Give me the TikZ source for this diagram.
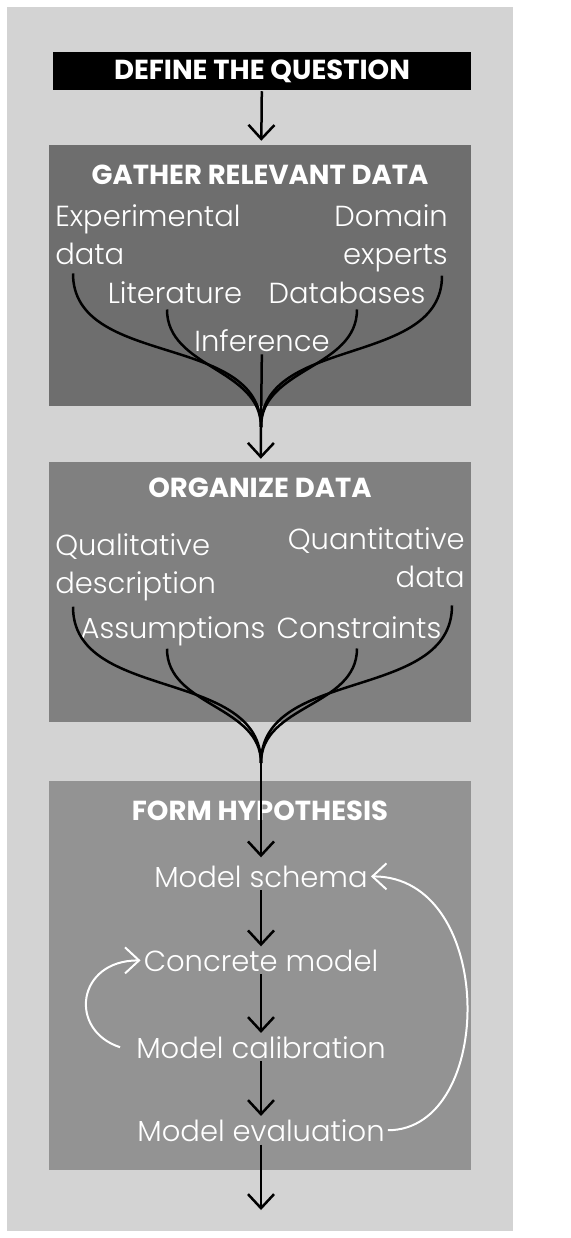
\documentclass[tikz,border=0pt]{standalone}
\usepackage{fontspec}
\setmainfont{Poppins}[UprightFont=* Light,BoldFont=* Bold]
\usepackage{tikz}
\usetikzlibrary{%
  arrows.meta,% Straight Barb
  positioning,% wg. " of "
  calc%
}
\definecolor{outergray}{HTML}{D3D3D3}
\definecolor{gathergray}{HTML}{6E6E6E}
\definecolor{organizegray}{HTML}{808080}
\definecolor{hypogray}{HTML}{939393}

\begin{document}
\begin{tikzpicture}[x=1pt,y=-1pt,line width=2.5pt,>={Straight Barb[length=14pt,width=26pt]},
    stagebox/.style={minimum width=422pt, inner sep=0pt},
    head/.style={text=white, font=\fontsize{27.5}{30}\selectfont\bfseries, inner sep=2pt},
    item/.style={text=white, font=\fontsize{29}{38}\selectfont, inner sep=2pt},
    whiteloop/.style={draw=white, line width=2pt}]
    \useasboundingbox (0,0) rectangle (570,1238);
    \fill[white] (0,0) rectangle (570,1238);
    \fill[outergray] (7,7) rectangle (513,1231);

    %question
    \node[head, fill=black, minimum width=418pt, minimum height=38pt] (define) at (262,71) {DEFINE THE QUESTION};

    %gather
    \node[stagebox, fill=gathergray, minimum height=261pt] (gather) at (260,275.5) {};
    \node[head, below=18pt of gather.north] (gathertitle) {GATHER RELEVANT DATA};
    \node[item, align=left, anchor=base west] (exp) at (52,265) {Experimental\\data};
    \node[item, align=right, anchor=base east] (dom) at (451,265) {Domain\\experts};
    \node[item, anchor=base] (lit) at (175,303) {Literature};
    \node[item, anchor=base] (dbs) at (347,303) {Databases};
    \node[item, anchor=base] (inf) at (262,351) {Inference};
    \coordinate (join1) at (261,427);

    %organize
    \node[stagebox, fill=organizegray, minimum height=260pt] (organize) at (260,592) {};
    \node[head, below=14pt of organize.north] (organizetitle) {ORGANIZE DATA};
    \node[item, align=left, anchor=base west] (qual) at (52,593) {Qualitative\\description};
    \node[item, align=right, anchor=base east] (quan) at (468,587) {Quantitative\\data};
    \node[item, anchor=base] (ass) at (173,638) {Assumptions};
    \node[item, anchor=base] (con) at (359,638) {Constraints};
    \coordinate (join2) at (261,763);

    %hypothesis
    \node[stagebox, fill=hypogray, minimum height=389pt] (hypo) at (260,975.5) {};
    \node[head, below=18pt of hypo.north] (hypotitle) {FORM HYPOTHESIS};
    \node[item, anchor=base] (schema) at (261,887) {Model schema};
    \node[item, anchor=base] (concrete) at (261,971) {Concrete model};
    \node[item, anchor=base] (calib) at (261,1058) {Model calibration};
    \node[item, anchor=base] (eval) at (261,1141) {Model evaluation};
    \coordinate (out) at (261,1210);

    \path[->]
    (define) edge[shorten >=3pt] (gather);
    \path
    ([xshift=21pt,yshift=-5pt]exp.south west) edge[out=-90,in=90] (join1)
    ([xshift=-8pt,yshift=-3pt]lit.south) edge[out=-90,in=90] (join1)
    (inf) edge (join1)
    ([xshift=10pt,yshift=-3pt]dbs.south) edge[out=-90,in=90] (join1)
    ([xshift=-9pt]dom.south east) edge[out=-90,in=90] (join1);
    \path[->]
    (join1) edge[shorten >=2pt] (organize);
    \path
    ([xshift=21pt,yshift=-3pt]qual.south west) edge[out=-90,in=90] (join2)
    ([xshift=-6pt]ass.south) edge[out=-90,in=90] (join2)
    ([xshift=-2pt,yshift=-7pt]con.south) edge[out=-90,in=90] (join2)
    ([xshift=-16pt,yshift=-15pt]quan.south east) edge[out=-90,in=90] (join2);
    \path[->]
    (join2) edge[shorten >=5pt] (schema)
    (schema) edge (concrete)
    (concrete) edge (calib)
    (calib) edge (eval)
    (eval) edge (out);

    %loops
    \draw[whiteloop,->] ([xshift=-13pt]calib.west) .. controls +(-52,-17) and +(-64,0) .. (concrete.west);
    \draw[whiteloop,->] (eval.east) .. controls +(108,0) and +(126,0) .. (schema.east);
\end{tikzpicture}
\end{document}
